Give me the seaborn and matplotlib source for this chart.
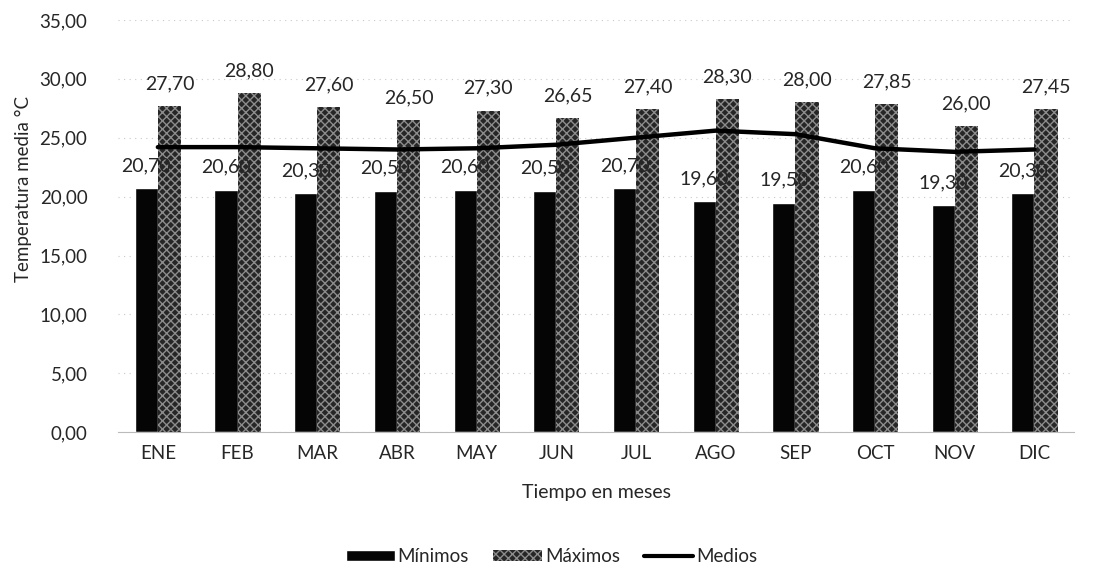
import numpy as np
import pandas as pd
import matplotlib.pyplot as plt
import seaborn as sns
from matplotlib.ticker import FuncFormatter, MultipleLocator
from matplotlib.patches import Patch
from matplotlib.lines import Line2D

meses = ['ENE', 'FEB', 'MAR', 'ABR', 'MAY', 'JUN', 'JUL', 'AGO', 'SEP', 'OCT', 'NOV', 'DIC']
minimos = [20.70, 20.60, 20.30, 20.50, 20.60, 20.50, 20.70, 19.60, 19.50, 20.60, 19.30, 20.30]
maximos = [27.70, 28.80, 27.60, 26.50, 27.30, 26.65, 27.40, 28.30, 28.00, 27.85, 26.00, 27.45]
# medios (no labels in the chart)
medios = [24.2, 24.2, 24.1, 24.0, 24.1, 24.4, 25.0, 25.6, 25.3, 24.1, 23.8, 24.0]

sns.set_style('white')
plt.rcParams['font.family'] = ['Lato', 'DejaVu Sans']

df = pd.DataFrame({'mes': meses * 2,
                   'valor': minimos + maximos,
                   'serie': ['Mínimos'] * 12 + ['Máximos'] * 12})

fig = plt.figure(figsize=(11.03, 5.68), dpi=100)
ax = fig.add_axes([0.107, 0.239, 0.867, 0.726])

sns.barplot(data=df, x='mes', y='valor', hue='serie', order=meses,
            palette=['#050505', '#262626'], width=0.58, ax=ax, legend=False)

# hatch the max bars to mimic the scanned texture
for bar in ax.containers[1]:
    bar.set_hatch('xxxx')
    bar.set_edgecolor('#8c8c8c')
    bar.set_linewidth(0)

sns.pointplot(x=meses, y=medios, color='black', marker='', linewidth=3.2,
              errorbar=None, ax=ax)

fmt = lambda v: f"{v:.2f}".replace('.', ',')
ax.bar_label(ax.containers[0], labels=[fmt(v) for v in minimos], padding=10, fontsize=14)
ax.bar_label(ax.containers[1], labels=[fmt(v) for v in maximos], padding=10, fontsize=14)

ax.set_ylim(0, 35)
ax.set_xlim(-0.5, 11.5)
ax.yaxis.set_major_locator(MultipleLocator(5))
ax.yaxis.set_major_formatter(FuncFormatter(lambda v, p: f"{v:.2f}".replace('.', ',')))
ax.grid(axis='y', color='#c8c8c8', linestyle=(0, (1, 4)), linewidth=0.8)
ax.set_axisbelow(True)
for s in ['top', 'right', 'left']:
    ax.spines[s].set_visible(False)
ax.spines['bottom'].set_color('#bbbbbb')
ax.tick_params(axis='x', labelsize=13.5, length=0, pad=9)
ax.tick_params(axis='y', labelsize=13.5, length=0, pad=22)

ax.set_xlabel('Tiempo en meses', fontsize=14, labelpad=16)
ax.set_ylabel('Temperatura media °C', fontsize=13.5)
ax.yaxis.set_label_coords(-0.09, 0.59)

handles = [Patch(facecolor='#050505'),
           Patch(facecolor='#262626', hatch='xxxx', edgecolor='#8c8c8c', linewidth=0),
           Line2D([0], [0], color='black', linewidth=3)]
fig.legend(handles, ['Mínimos', 'Máximos', 'Medios'], loc='lower center',
           bbox_to_anchor=(0.5, -0.025), ncol=3, frameon=False, fontsize=13.5,
           handlelength=2.6, handleheight=0.5, columnspacing=1.3, handletextpad=0.15)

fig.savefig('out.png', dpi=100)
